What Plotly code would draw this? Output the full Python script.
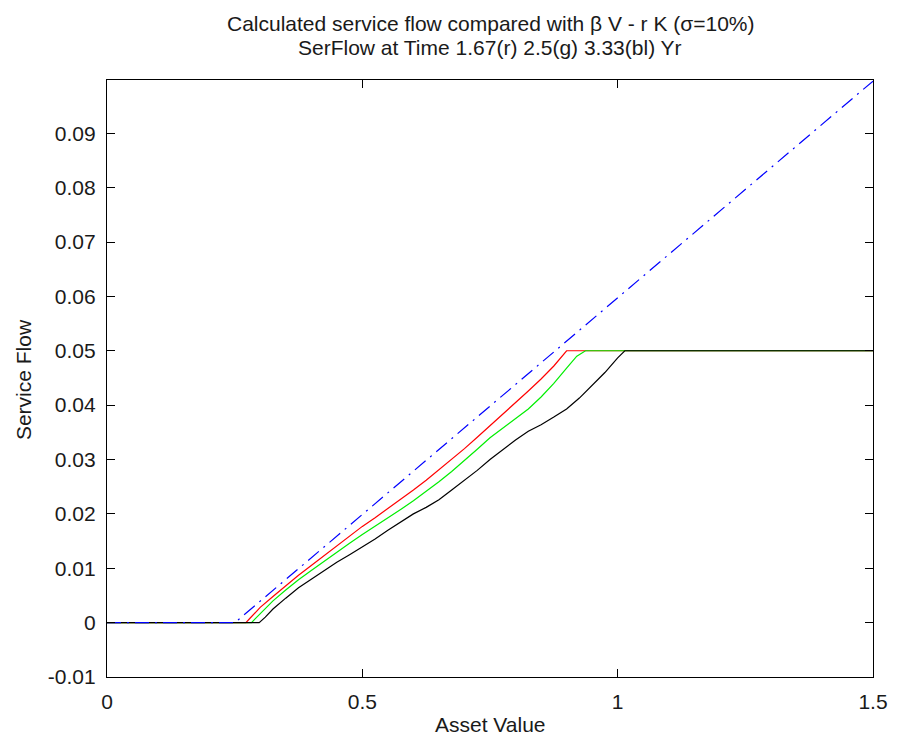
import plotly.graph_objects as go

# Asset value grid and service flow at three horizons (capped at 0.05)
x_red = [0, 0.272, 0.28, 0.29, 0.30, 0.325, 0.35, 0.375, 0.40, 0.425, 0.45, 0.475,
         0.50, 0.525, 0.55, 0.575, 0.60, 0.625, 0.65, 0.675, 0.70, 0.725, 0.75,
         0.775, 0.80, 0.825, 0.85, 0.875, 0.90, 1.5]
y_red = [0, 0, 0.0008, 0.0018, 0.0028, 0.0048, 0.0068, 0.0087, 0.0105, 0.0123,
         0.0141, 0.0159, 0.0177, 0.0193, 0.0210, 0.0226, 0.0244, 0.0262, 0.0281,
         0.0300, 0.0320, 0.0341, 0.0362, 0.0384, 0.0405, 0.0426, 0.0448, 0.0472,
         0.0500, 0.0500]

x_green = [0, 0.283, 0.29, 0.30, 0.325, 0.35, 0.375, 0.40, 0.425, 0.45, 0.475,
           0.50, 0.525, 0.55, 0.575, 0.60, 0.625, 0.65, 0.675, 0.70, 0.725, 0.75,
           0.775, 0.80, 0.825, 0.85, 0.875, 0.90, 0.92, 0.937, 1.5]
y_green = [0, 0, 0.0007, 0.0017, 0.0040, 0.0060, 0.0079, 0.0096, 0.0113, 0.0130,
           0.0146, 0.0162, 0.0177, 0.0193, 0.0208, 0.0224, 0.0241, 0.0259, 0.0278,
           0.0298, 0.0319, 0.0340, 0.0358, 0.0375, 0.0393, 0.0415, 0.0440, 0.0468,
           0.0490, 0.0500, 0.0500]

x_black = [0, 0.298, 0.31, 0.325, 0.35, 0.375, 0.40, 0.425, 0.45, 0.475, 0.50,
           0.525, 0.55, 0.575, 0.60, 0.625, 0.65, 0.675, 0.70, 0.725, 0.75, 0.775,
           0.80, 0.825, 0.85, 0.875, 0.90, 0.925, 0.95, 0.975, 1.00, 1.014, 1.5]
y_black = [0, 0, 0.0010, 0.0025, 0.0045, 0.0064, 0.0080, 0.0096, 0.0111, 0.0125,
           0.0139, 0.0154, 0.0170, 0.0185, 0.0200, 0.0212, 0.0226, 0.0244, 0.0262,
           0.0280, 0.0300, 0.0318, 0.0336, 0.0352, 0.0364, 0.0378, 0.0393, 0.0413,
           0.0436, 0.0460, 0.0487, 0.0500, 0.0500]

# beta*V - r*K reference line (floored at zero)
x_blue = [0, 0.2505, 1.5]
y_blue = [0, 0, 0.0996]

x_ticks = [0, 0.5, 1, 1.5]
x_tick_text = ["0", "0.5", "1", "1.5"]
y_ticks = [-0.01, 0, 0.01, 0.02, 0.03, 0.04, 0.05, 0.06, 0.07, 0.08, 0.09]
y_tick_text = ["-0.01", "0", "0.01", "0.02", "0.03", "0.04", "0.05", "0.06",
               "0.07", "0.08", "0.09"]

FONT = "Liberation Sans, Arial, Helvetica, sans-serif"
TXT = "#1a1a1a"

W, H = 900, 735
L, R, T, B = 107, 17, 80, 58
pw, ph = W - L - R, H - T - B


def paper_x(px):
    return (px - L) / pw


def paper_y(py):
    return 1 - (py - T) / ph


fig = go.Figure()
fig.add_trace(go.Scatter(x=x_red, y=y_red, mode="lines",
                         line=dict(color="#ff0000", width=1.2)))
fig.add_trace(go.Scatter(x=x_green, y=y_green, mode="lines",
                         line=dict(color="#00ee00", width=1.2)))
fig.add_trace(go.Scatter(x=x_black, y=y_black, mode="lines",
                         line=dict(color="#000000", width=1.2)))
fig.add_trace(go.Scatter(x=x_blue, y=y_blue, mode="lines",
                         line=dict(color="#0000ff", width=1.2,
                                   dash="14px,6px,2px,6px")))

axis_common = dict(
    showline=True, linecolor="black", linewidth=1.3, mirror="ticks",
    ticks="inside", ticklen=8, tickcolor="black", tickwidth=1.3,
    showgrid=False, zeroline=False,
    tickfont=dict(family=FONT, size=21, color=TXT),
)

text_font = dict(family=FONT, size=21, color=TXT)
labels = [
    ("Calculated service flow compared with \u03b2 V - r K (\u03c3=10%)", 495, 24, 0),
    ("SerFlow at Time 1.67(r) 2.5(g) 3.33(bl) Yr", 495, 48, 0),
    ("Asset Value", 495, 725, 0),
    ("Service Flow", 22, 380, -90),
]
annotations = [
    dict(text=t, x=paper_x(px), y=paper_y(py), xref="paper", yref="paper",
         xanchor="center", yanchor="middle", textangle=ang,
         showarrow=False, font=text_font)
    for t, px, py, ang in labels
]

fig.update_layout(
    width=W, height=H,
    margin=dict(l=L, r=R, t=T, b=B),
    paper_bgcolor="white", plot_bgcolor="white",
    showlegend=False,
    xaxis=dict(range=[0, 1.5], tickvals=x_ticks, ticktext=x_tick_text,
               ticklabelstandoff=6, **axis_common),
    yaxis=dict(range=[-0.01, 0.0998], tickvals=y_ticks, ticktext=y_tick_text,
               ticklabelstandoff=6, **axis_common),
    annotations=annotations,
)

fig.write_html("out.html")
